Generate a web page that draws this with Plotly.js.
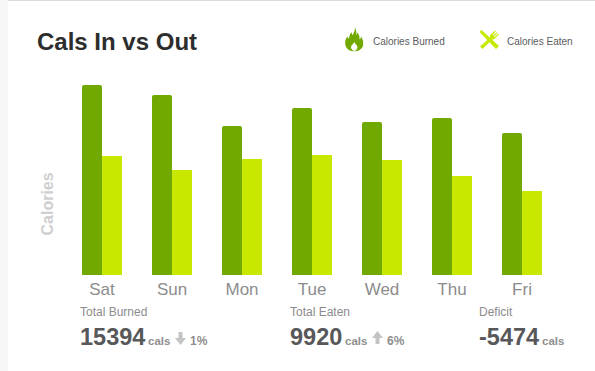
<!DOCTYPE html>
<html><head><meta charset="utf-8">
<script src="https://cdn.plot.ly/plotly-3.0.1.min.js"></script>
<style>html,body{margin:0;padding:0;background:#fff;overflow:hidden}#c{width:595px;height:371px}</style>
</head><body><div id="c"></div>
<script>
const days = ['Sat','Sun','Mon','Tue','Wed','Thu','Fri'];
const burned = [2570,2435,2015,2260,2070,2125,1920];
const eaten = [1610,1420,1570,1624,1556,1340,1136];
const burnedColor = '#71a900', eatenColor = '#c9e800';
const stats = [
  {label:'Total Burned', value:'15394', x:79, unitX:147, arrow:'down', arrowX:180.5, pct:'1%', pctX:189},
  {label:'Total Eaten', value:'9920', x:289, unitX:344, arrow:'up', arrowX:377.5, pct:'6%', pctX:386},
  {label:'Deficit', value:'-5474', x:478, unitX:541}
];
const W = 595, H = 371;
const px = x => x / W, py = y => 1 - y / H;
const svg = s => 'data:image/svg+xml;utf8,' + encodeURIComponent(s);
const flame = svg(`<svg xmlns="http://www.w3.org/2000/svg" viewBox="0 0 20 24"><path fill-rule="evenodd" fill="${burnedColor}" d="M10.5 0 C11.5 3 9.5 5.5 8.3 8 C7.5 7.2 7 6 7 5 C4.5 7.5 5 10 3.8 11.5 C3.2 11 2.6 10 2.6 9 C0.6 11.5 0 14 0.2 16.5 C0.7 21 4.5 24 10 24 C15.5 24 19.5 21 19.8 16.5 C20 13.5 18.8 11.5 17.2 9 C17.2 10.5 16.8 11.5 15.8 12.2 C16 8.5 14.5 6.5 13.3 4.8 C13.3 6.5 13 7.3 12.3 8 C12.6 5 12 2.5 10.5 0 Z M10 14.5 C9.5 16.5 6.6 17.5 6.6 20.2 C6.6 22 8.2 23.4 10 23.4 C11.8 23.4 13.4 22 13.4 20.2 C13.4 17.5 10.5 16.5 10 14.5 Z"/></svg>`);
const cutlery = svg(`<svg xmlns="http://www.w3.org/2000/svg" viewBox="0 0 20 20"><g fill="${eatenColor}"><path d="M0 2 L2 0 L19.5 16.5 L16.5 19.5 Z"/><path d="M0.5 17 L11 7.5 L13 9.5 L3 19.5 Z"/><path d="M10.5 8 L10.5 5.5 L15.5 0.5 L16.3 1.3 L13 5 L13.7 5.7 L17.2 2.2 L18 3 L14.5 6.5 L15.2 7.2 L18.7 3.8 L19.5 4.6 L14.5 9.5 L12 9.8 Z"/></g></svg>`);
const arrowPath = (x, y, up, color) => {
  const s = up ? -1 : 1;
  return {type:'path', xref:'paper', yref:'paper', line:{width:0}, fillcolor:color,
    path:[[x-2,y-6*s],[x+2,y-6*s],[x+2,y+0*s],[x+5.5,y+0*s],[x,y+7*s],[x-5.5,y+0*s],[x-2,y+0*s]]
      .map((p,i)=>(i?'L':'M')+' '+px(p[0])+' '+py(p[1])).join(' ')+' Z'};
};
const font = 'Liberation Sans, Helvetica, Arial, sans-serif';
const text = (t, x, y, size, color, extra={}) => Object.assign({
  text:t, x:px(x), y:py(y), xref:'paper', yref:'paper', xanchor:'left', yanchor:'middle',
  showarrow:false, font:{family:font, size, color}, borderpad:0
}, extra);
const annotations = [
  text('<b>Cals In vs Out</b>', 36, 42, 24, '#2d2d2d'),
  text('Calories Burned', 372, 41.5, 10, '#5c5c5c'),
  text('Calories Eaten', 506, 41.5, 10, '#5c5c5c'),
  text('<b>Calories</b>', 47, 204.5, 16, '#cfcfcf', {textangle:-90, xanchor:'center'})
];
const shapes = [
  {type:'rect', xref:'paper', yref:'paper', x0:0, x1:px(8), y0:0, y1:1, fillcolor:'#f7f7f7', line:{width:0}, layer:'below'},
  {type:'rect', xref:'paper', yref:'paper', x0:px(8), x1:1, y0:py(1), y1:1, fillcolor:'#dcdcdc', line:{width:0}, layer:'below'}
];
stats.forEach(s => {
  annotations.push(text(s.label, s.x, 312, 12, '#8c8c8c'));
  annotations.push(text('<b>'+s.value+'</b>', s.x, 337, 23.5, '#58585a'));
  annotations.push(text('<b>cals</b>', s.unitX, 341, 11.5, '#8f8f8f'));
  if (s.pct) {
    annotations.push(text('<b>'+s.pct+'</b>', s.pctX, 341, 12, '#8f8f8f'));
    shapes.push(arrowPath(s.arrowX, 338, s.arrow==='up', '#c4c4c4'));
  }
});
const common = {type:'bar', x:days, hoverinfo:'skip'};
Plotly.newPlot('c', [
  Object.assign({}, common, {name:'Calories Burned', y:burned, marker:{color:burnedColor, line:{width:0}, cornerradius:2}}),
  Object.assign({}, common, {name:'Calories Eaten', y:eaten, marker:{color:eatenColor, line:{width:0}}})
], {
  width:W, height:H, margin:{l:0,r:0,t:0,b:0,pad:0}, showlegend:false, barmode:'group',
  bargap:30/70, bargroupgap:0, paper_bgcolor:'#fff', plot_bgcolor:'#fff',
  font:{family:font},
  xaxis:{domain:[px(67),px(557)], tickfont:{size:17,color:'#8c8c8c',family:font}, ticks:'', showline:false, showgrid:false, zeroline:false, automargin:false, fixedrange:true, ticklabelstandoff:2},
  yaxis:{domain:[py(275),py(75)], range:[0,200*13.53], visible:false, showgrid:false, zeroline:false, fixedrange:true},
  annotations, shapes,
  images:[
    {source:flame, xref:'paper', yref:'paper', x:px(345), y:py(27), sizex:px(18.5), sizey:24.5/H, xanchor:'left', yanchor:'top', sizing:'stretch'},
    {source:cutlery, xref:'paper', yref:'paper', x:px(479.5), y:py(30), sizex:px(20), sizey:19.5/H, xanchor:'left', yanchor:'top', sizing:'stretch'}
  ]
}, {displayModeBar:false, staticPlot:true});
</script></body></html>
